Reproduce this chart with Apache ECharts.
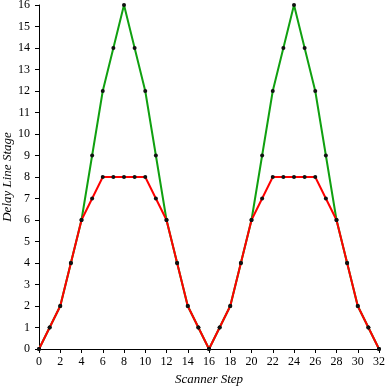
<!DOCTYPE html>
<html><head><meta charset="utf-8">
<script src="https://cdn.jsdelivr.net/npm/echarts@6/dist/echarts.min.js"></script>
<style>html,body{margin:0;padding:0;background:#fff}#c{width:385px;height:388px}</style>
</head><body><div id="c"></div>
<script>
const steps = [0,1,2,3,4,5,6,7,8,9,10,11,12,13,14,15,16,17,18,19,20,21,22,23,24,25,26,27,28,29,30,31,32];
const greenStage = [0,1,2,4,6,9,12,14,16,14,12,9,6,4,2,1,0,1,2,4,6,9,12,14,16,14,12,9,6,4,2,1,0];
const redStage = [0,1,2,4,6,7,8,8,8,8,8,7,6,4,2,1,0,1,2,4,6,7,8,8,8,8,8,7,6,4,2,1,0];
const xTitle = 'Scanner Step';
const yTitle = 'Delay Line Stage';
const font = 'Liberation Serif';
const chart = echarts.init(document.getElementById('c'));
function pts(a){return steps.map((x,i)=>[x,a[i]]);}
chart.setOption({
  animation:false,
  grid:{left:39,right:6,top:5,bottom:39,containLabel:false,outerBoundsMode:'none'},
  xAxis:{type:'value',min:0,max:32,interval:2,
    name:xTitle,nameLocation:'middle',nameGap:24,nameMoveOverlap:false,
    nameTextStyle:{fontFamily:font,fontStyle:'italic',fontSize:13,color:'#000'},
    axisLine:{lineStyle:{color:'#000',width:1}},
    axisTick:{show:true,length:4,lineStyle:{color:'#000'}},
    axisLabel:{fontFamily:font,fontSize:12,color:'#000',margin:7},
    splitLine:{show:false}},
  yAxis:{type:'value',min:0,max:16,interval:1,
    name:yTitle,nameLocation:'middle',nameGap:25,nameMoveOverlap:false,
    nameTextStyle:{fontFamily:font,fontStyle:'italic',fontSize:13,color:'#000'},
    axisLine:{show:true,lineStyle:{color:'#000',width:1}},
    axisTick:{show:true,length:4,lineStyle:{color:'#000'}},
    axisLabel:{fontFamily:font,fontSize:12,color:'#000',margin:9},
    splitLine:{show:false}},
  series:[
    {type:'line',data:pts(greenStage),lineStyle:{color:'#10a010',width:2},
     symbol:'circle',symbolSize:4,itemStyle:{color:'#111'}},
    {type:'line',data:pts(redStage),lineStyle:{color:'#ff0000',width:2},
     symbol:'circle',symbolSize:4,itemStyle:{color:'#111'}}
  ]
});
</script></body></html>
